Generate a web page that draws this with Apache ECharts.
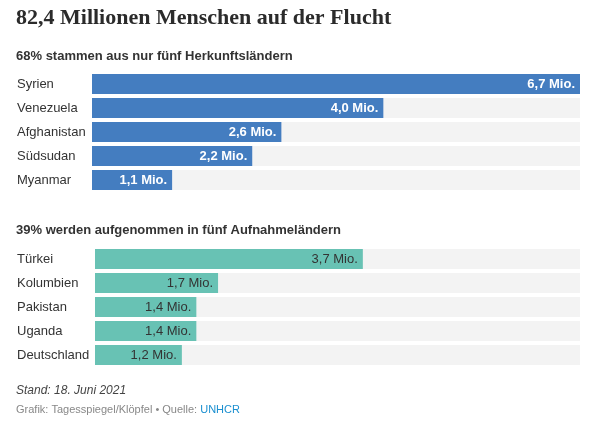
<!DOCTYPE html>
<html><head><meta charset="utf-8">
<script src="https://cdn.jsdelivr.net/npm/echarts@6/dist/echarts.min.js"></script>
<style>html,body{margin:0;padding:0;background:#fff}#c{width:606px;height:429px}</style>
</head><body><div id="c"></div>
<script>
const originCountries = ['Syrien','Venezuela','Afghanistan','Südsudan','Myanmar'];
const originValues = [6.7, 4.0, 2.6, 2.2, 1.1];
const hostCountries = ['Türkei','Kolumbien','Pakistan','Uganda','Deutschland'];
const hostValues = [3.7, 1.7, 1.4, 1.4, 1.2];
const axisMax = 6.7;

const fmt = p => p.value.toFixed(1).replace('.', ',') + ' Mio.';
const sans = '"Liberation Sans", Arial, sans-serif';
const chart = echarts.init(document.getElementById('c'), null, {renderer:'canvas'});
chart.setOption({
  animation:false,
  backgroundColor:'#fff',
  grid:[
    {left:92, right:26, top:72, height:120},
    {left:95, right:26, top:247, height:120}
  ],
  xAxis:[
    {gridIndex:0, type:'value', min:0, max:axisMax, show:false},
    {gridIndex:1, type:'value', min:0, max:axisMax, show:false}
  ],
  yAxis:[
    {gridIndex:0, type:'category', data:originCountries, inverse:true,
     axisLine:{show:false}, axisTick:{show:false},
     axisLabel:{align:'left', margin:75, color:'#333', fontSize:13, fontFamily:sans}},
    {gridIndex:1, type:'category', data:hostCountries, inverse:true,
     axisLine:{show:false}, axisTick:{show:false},
     axisLabel:{align:'left', margin:78, color:'#333', fontSize:13, fontFamily:sans}}
  ],
  series:[
    {type:'bar', xAxisIndex:0, yAxisIndex:0, data:originValues, barWidth:20,
     itemStyle:{color:'#447dc0'}, showBackground:true, backgroundStyle:{color:'#f3f3f3'},
     label:{show:true, position:'insideRight', distance:5, formatter:fmt, color:'#fff', fontWeight:'bold', fontSize:13, fontFamily:sans}},
    {type:'bar', xAxisIndex:1, yAxisIndex:1, data:hostValues, barWidth:20,
     itemStyle:{color:'#68c2b4'}, showBackground:true, backgroundStyle:{color:'#f3f3f3'},
     label:{show:true, position:'insideRight', distance:5, formatter:fmt, color:'#333', fontSize:13, fontFamily:sans}}
  ],
  graphic:[
    {type:'text', left:16, top:7, style:{text:'82,4 Millionen Menschen auf der Flucht', font:'bold 22px "Liberation Serif", "DejaVu Serif", serif', fill:'#2b2b2b'}},
    {type:'text', left:16, top:50, style:{text:'68% stammen aus nur fünf Herkunftsländern', font:'bold 13px '+sans, fill:'#333'}},
    {type:'text', left:16, top:224, style:{text:'39% werden aufgenommen in fünf Aufnahmeländern', font:'bold 13px '+sans, fill:'#333'}},
    {type:'text', left:16, top:385, style:{text:'Stand: 18. Juni 2021', font:'italic 12px '+sans, fill:'#444'}},
    {type:'text', left:16, top:404, style:{text:'{g|Grafik: Tagesspiegel/Klöpfel • Quelle: }{u|UNHCR}',
      rich:{g:{fontSize:11, fontFamily:sans, fill:'#888'}, u:{fontSize:11, fontFamily:sans, fill:'#1a8fd0'}}}}
  ]
});
</script></body></html>
